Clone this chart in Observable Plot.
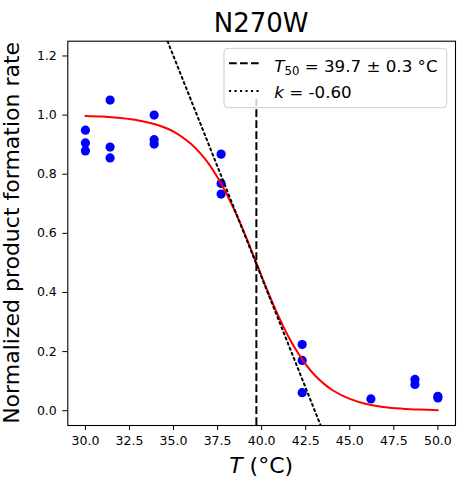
<!DOCTYPE html>
<html>
<head>
<meta charset="utf-8">
<script src="https://cdn.jsdelivr.net/npm/d3@7"></script>
<script src="https://cdn.jsdelivr.net/npm/@observablehq/plot@0.6"></script>
<style>
  html, body { margin: 0; padding: 0; background: white; }
  #chart { width: 464px; height: 487px; }
</style>
</head>
<body>
<div id="chart"></div>
<script>
// Measured data points
const tempC = [30, 30, 30, 31.4, 31.4, 31.4, 33.9, 33.9, 33.9, 37.7, 37.7, 37.7, 42.3, 42.3, 42.3, 46.2, 48.7, 48.7, 50, 50];
const rate  = [0.949, 0.906, 0.879, 1.051, 0.892, 0.855, 1.0, 0.917, 0.902, 0.868, 0.769, 0.733, 0.224, 0.170, 0.061, 0.040, 0.106, 0.089, 0.049, 0.043];

// Fitted curve
const fitT    = [30, 31, 32, 33, 34, 35, 36, 36.5, 37, 37.5, 38, 38.5, 39, 39.5, 40, 40.5, 41, 41.5, 42, 42.5, 43, 43.5, 44, 45, 46, 47, 48, 49, 50];
const fitRate = [0.997, 0.995, 0.990, 0.982, 0.968, 0.944, 0.902, 0.872, 0.835, 0.789, 0.735, 0.673, 0.604, 0.530, 0.455, 0.382, 0.314, 0.253, 0.201, 0.157, 0.121, 0.093, 0.070, 0.040, 0.022, 0.012, 0.007, 0.004, 0.002];

// Tangent (slope) line end points
const slopeT    = [34.66, 43.35];
const slopeRate = [1.25, -0.05];

// T50 marker
const t50 = 39.7;
const t50Top = 1.053;

// Ticks and labels
const xTicks = [30, 32.5, 35, 37.5, 40, 42.5, 45, 47.5, 50];
const yTicks = [0, 0.2, 0.4, 0.6, 0.8, 1.0, 1.2];
const titleText = "N270W";
const yLabelText = "Normalized product formation rate";
const legend1Value = " = 39.7 ± 0.3 °C";
const legend2Value = " = -0.60";

const points = tempC.map((t, i) => ({t, r: rate[i]}));
const fit = fitT.map((t, i) => ({t, r: fitRate[i]}));
const slope = slopeT.map((t, i) => ({t, r: slopeRate[i]}));

const mL = 67.3, mR = 9, mT = 40.7, mB = 62, W = 464, H = 487;

const svg = Plot.plot({
  width: W,
  height: H,
  marginLeft: mL,
  marginRight: mR,
  marginTop: mT,
  marginBottom: mB,
  style: {fontFamily: "DejaVu Sans", fontSize: "12.5px", color: "black", background: "white", overflow: "visible"},
  x: {domain: [29, 51]},
  y: {domain: [-0.05, 1.25]},
  marks: [
    Plot.axisX({ticks: xTicks, tickFormat: d3.format(".1f"), tickSize: 5, tickPadding: 6, label: null}),
    Plot.axisY({ticks: yTicks, tickFormat: d3.format(".1f"), tickSize: 5, tickPadding: 6, label: null}),
    Plot.dot(points, {x: "t", y: "r", r: 4.6, fill: "#0000ff", stroke: "none"}),
    Plot.line(fit, {x: "t", y: "r", stroke: "#ff0000", strokeWidth: 2, curve: "catmull-rom"}),
    Plot.ruleX([t50], {y1: -0.05, y2: t50Top, stroke: "black", strokeWidth: 2, strokeDasharray: "7.7,3.3"}),
    Plot.line(slope, {x: "t", y: "r", stroke: "black", strokeWidth: 2, strokeDasharray: "2.1,3.4", clip: true}),
    Plot.frame({stroke: "black", strokeWidth: 1.1})
  ]
});

const s = d3.select(svg);
const cx = mL + (W - mL - mR) / 2;

// Title
s.append("text")
  .attr("x", cx).attr("y", 31.7)
  .attr("text-anchor", "middle")
  .attr("font-family", "DejaVu Sans")
  .attr("font-size", 26)
  .attr("fill", "black")
  .text(titleText);

// X label
const xl = s.append("text")
  .attr("x", cx).attr("y", 472.5)
  .attr("text-anchor", "middle")
  .attr("font-family", "DejaVu Sans")
  .attr("font-size", 22)
  .attr("fill", "black");
xl.append("tspan").attr("font-style", "italic").text("T");
xl.append("tspan").text(" (°C)");

// Y label
s.append("text")
  .attr("transform", `translate(19,${mT + (H - mT - mB) / 2}) rotate(-90)`)
  .attr("text-anchor", "middle")
  .attr("font-family", "DejaVu Sans")
  .attr("font-size", 22)
  .attr("fill", "black")
  .text(yLabelText);

// Legend
const lg = s.append("g").attr("text-anchor", "start");
lg.append("rect")
  .attr("x", 224).attr("y", 48.3).attr("width", 222.7).attr("height", 59.4)
  .attr("rx", 4).attr("ry", 4)
  .attr("fill", "white").attr("fill-opacity", 0.8)
  .attr("stroke", "#cccccc").attr("stroke-width", 1);
lg.append("line")
  .attr("x1", 229).attr("x2", 262).attr("y1", 63.3).attr("y2", 63.3)
  .attr("stroke", "black").attr("stroke-width", 2).attr("stroke-dasharray", "7.7,3.3");
lg.append("line")
  .attr("x1", 229).attr("x2", 262).attr("y1", 91).attr("y2", 91)
  .attr("stroke", "black").attr("stroke-width", 2).attr("stroke-dasharray", "2.1,3.4");
const t1 = lg.append("text")
  .attr("x", 274.3).attr("y", 71.7)
  .attr("text-anchor", "start")
  .attr("font-family", "DejaVu Sans").attr("font-size", 16.7).attr("fill", "black");
t1.append("tspan").attr("font-style", "italic").text("T");
t1.append("tspan").attr("font-size", 11.7).attr("dy", 3).text("50");
t1.append("tspan").attr("dy", -3).text(legend1Value);
const t2 = lg.append("text")
  .attr("x", 274.3).attr("y", 98.3)
  .attr("text-anchor", "start")
  .attr("font-family", "DejaVu Sans").attr("font-size", 16.7).attr("fill", "black");
t2.append("tspan").attr("font-style", "italic").text("k");
t2.append("tspan").text(legend2Value);

document.getElementById("chart").appendChild(svg);
</script>
</body>
</html>
